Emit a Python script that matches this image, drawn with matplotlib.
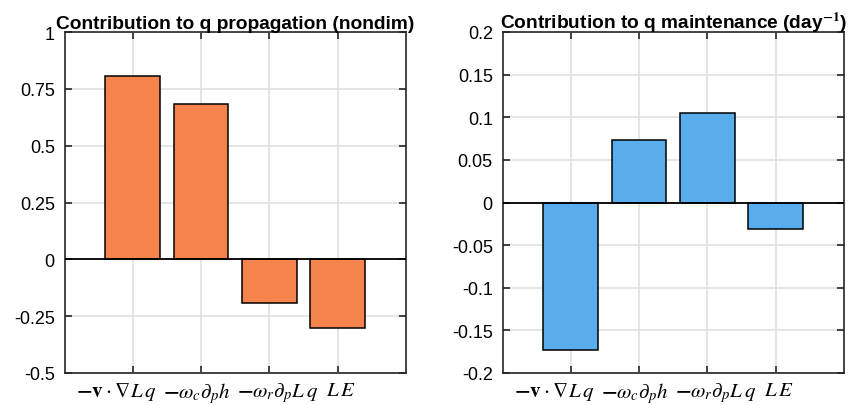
import matplotlib
matplotlib.use("Agg")
import matplotlib.pyplot as plt
import matplotlib.transforms as mtransforms
import numpy as np

# terms of the q budget
labels = [r'$\mathbf{-v}\:\cdot\:\nabla L\,q$', r'$\mathbf{-}\omega_c\partial_p h$',
          r'$\mathbf{-}\omega_r\partial_p L\,q$', r'$L\,E$']
propagation = [0.806, 0.685, -0.194, -0.304]
maintenance = [-0.173, 0.0737, 0.105, -0.0316]

prop_ticks = [-0.5, -0.25, 0, 0.25, 0.5, 0.75, 1]
prop_ticklabels = ['-0.5', '-0.25', '0', '0.25', '0.5', '0.75', '1']
maint_ticks = [-0.2, -0.15, -0.1, -0.05, 0, 0.05, 0.1, 0.15, 0.2]
maint_ticklabels = ['-0.2', '-0.15', '-0.1', '-0.05', '0', '0.05', '0.1', '0.15', '0.2']

# horizontal nudge of each x label (pixels), the way matlab's latex labels sit
label_shift = [-17, -4, 8, 3]

plt.rcParams['font.family'] = ['Liberation Sans', 'DejaVu Sans']
plt.rcParams['mathtext.fontset'] = 'stix'

fig = plt.figure(figsize=(8.55, 4.06), dpi=100)
ax1 = fig.add_axes([64.5 / 855, 1 - 374 / 406, 341.5 / 855, 341 / 406])
ax2 = fig.add_axes([502.5 / 855, 1 - 374 / 406, 341.5 / 855, 341 / 406])


def draw(ax, vals, color, ylim, ticks, ticklabels, title):
    x = np.arange(1, len(vals) + 1)
    ax.bar(x, vals, width=0.8, color=color, edgecolor='black', linewidth=1.1, zorder=3)
    ax.axhline(0, color='black', linewidth=1.3, zorder=4)
    ax.set_xlim(0, 5)
    ax.set_ylim(*ylim)
    ax.set_xticks(x)
    ax.set_xticklabels(labels, fontsize=15)
    ax.set_yticks(ticks)
    ax.set_yticklabels(ticklabels, fontsize=13)
    ax.grid(True, color='#e0e0e0', linewidth=1.2, zorder=0)
    ax.tick_params(direction='in', length=5, width=1.2, top=True, right=True,
                   color='#262626', pad=7)
    ax.tick_params(axis='x', pad=5)
    for lab, dx in zip(ax.get_xticklabels(), label_shift):
        off = mtransforms.ScaledTranslation(dx / 100, 0, fig.dpi_scale_trans)
        lab.set_transform(lab.get_transform() + off)
    for s in ax.spines.values():
        s.set_linewidth(1.2)
        s.set_color('#262626')
    ax.set_title(title, fontsize=13.8, fontweight='bold', pad=3)


draw(ax1, propagation, '#F4834C', (-0.5, 1), prop_ticks, prop_ticklabels,
     'Contribution to q propagation (nondim)')
draw(ax2, maintenance, '#5AADEC', (-0.2, 0.2), maint_ticks, maint_ticklabels,
     r'Contribution to q maintenance (day$^{\mathbf{-1}}$)')

plt.savefig('out.png', dpi=100)
plt.close()
